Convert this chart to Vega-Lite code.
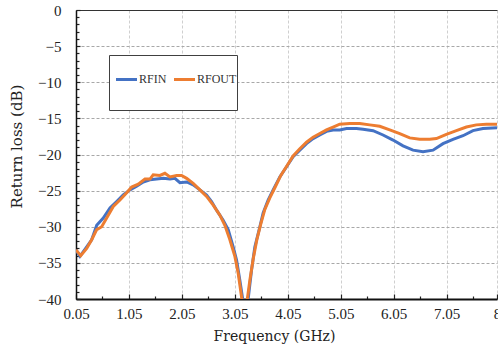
{
  "$schema": "https://vega.github.io/schema/vega-lite/v6.json",
  "width": 421,
  "height": 289,
  "autosize": {"type": "none"},
  "padding": {"left": 76, "top": 10, "right": 1, "bottom": 51},
  "background": "white",
  "config": {"view": {"stroke": null}, "font": "Liberation Serif"},
  "data": {"values": [
    {"f": 0.05, "s": "RFIN", "v": -33.2},
    {"f": 0.125, "s": "RFIN", "v": -34.1},
    {"f": 0.252, "s": "RFIN", "v": -32.8},
    {"f": 0.346, "s": "RFIN", "v": -31.8},
    {"f": 0.441, "s": "RFIN", "v": -29.8},
    {"f": 0.565, "s": "RFIN", "v": -28.8},
    {"f": 0.692, "s": "RFIN", "v": -27.4},
    {"f": 0.818, "s": "RFIN", "v": -26.5},
    {"f": 0.942, "s": "RFIN", "v": -25.6},
    {"f": 1.069, "s": "RFIN", "v": -24.9},
    {"f": 1.195, "s": "RFIN", "v": -24.4},
    {"f": 1.32, "s": "RFIN", "v": -23.8},
    {"f": 1.446, "s": "RFIN", "v": -23.5},
    {"f": 1.573, "s": "RFIN", "v": -23.4},
    {"f": 1.697, "s": "RFIN", "v": -23.3},
    {"f": 1.824, "s": "RFIN", "v": -23.4},
    {"f": 1.918, "s": "RFIN", "v": -23.3},
    {"f": 2.012, "s": "RFIN", "v": -23.9},
    {"f": 2.139, "s": "RFIN", "v": -23.8},
    {"f": 2.263, "s": "RFIN", "v": -24.2},
    {"f": 2.39, "s": "RFIN", "v": -24.9},
    {"f": 2.516, "s": "RFIN", "v": -25.6},
    {"f": 2.61, "s": "RFIN", "v": -26.5},
    {"f": 2.705, "s": "RFIN", "v": -27.7},
    {"f": 2.829, "s": "RFIN", "v": -29.1},
    {"f": 2.924, "s": "RFIN", "v": -30.4},
    {"f": 3.018, "s": "RFIN", "v": -32.8},
    {"f": 3.082, "s": "RFIN", "v": -34.6},
    {"f": 3.144, "s": "RFIN", "v": -37.4},
    {"f": 3.195, "s": "RFIN", "v": -39.9},
    {"f": 3.258, "s": "RFIN", "v": -42},
    {"f": 3.301, "s": "RFIN", "v": -40},
    {"f": 3.365, "s": "RFIN", "v": -36},
    {"f": 3.427, "s": "RFIN", "v": -32.8},
    {"f": 3.522, "s": "RFIN", "v": -30},
    {"f": 3.584, "s": "RFIN", "v": -28.1},
    {"f": 3.678, "s": "RFIN", "v": -26.3},
    {"f": 3.773, "s": "RFIN", "v": -24.9},
    {"f": 3.899, "s": "RFIN", "v": -23.1},
    {"f": 4.026, "s": "RFIN", "v": -21.7},
    {"f": 4.15, "s": "RFIN", "v": -20.3},
    {"f": 4.276, "s": "RFIN", "v": -19.4},
    {"f": 4.403, "s": "RFIN", "v": -18.5},
    {"f": 4.527, "s": "RFIN", "v": -17.8},
    {"f": 4.654, "s": "RFIN", "v": -17.3},
    {"f": 4.78, "s": "RFIN", "v": -16.8},
    {"f": 4.905, "s": "RFIN", "v": -16.6},
    {"f": 5.031, "s": "RFIN", "v": -16.6},
    {"f": 5.158, "s": "RFIN", "v": -16.4},
    {"f": 5.346, "s": "RFIN", "v": -16.4},
    {"f": 5.471, "s": "RFIN", "v": -16.5},
    {"f": 5.66, "s": "RFIN", "v": -16.7},
    {"f": 5.848, "s": "RFIN", "v": -17.3},
    {"f": 6.037, "s": "RFIN", "v": -18.0},
    {"f": 6.226, "s": "RFIN", "v": -18.8},
    {"f": 6.414, "s": "RFIN", "v": -19.4},
    {"f": 6.603, "s": "RFIN", "v": -19.6},
    {"f": 6.792, "s": "RFIN", "v": -19.4},
    {"f": 6.98, "s": "RFIN", "v": -18.5},
    {"f": 7.169, "s": "RFIN", "v": -17.9},
    {"f": 7.358, "s": "RFIN", "v": -17.4},
    {"f": 7.546, "s": "RFIN", "v": -16.7},
    {"f": 7.735, "s": "RFIN", "v": -16.4},
    {"f": 8.0, "s": "RFIN", "v": -16.3},
    {"f": 0.05, "s": "RFOUT", "v": -33.2},
    {"f": 0.139, "s": "RFOUT", "v": -34.0},
    {"f": 0.252, "s": "RFOUT", "v": -33.0},
    {"f": 0.346, "s": "RFOUT", "v": -31.8},
    {"f": 0.441, "s": "RFOUT", "v": -30.4},
    {"f": 0.535, "s": "RFOUT", "v": -30.0},
    {"f": 0.659, "s": "RFOUT", "v": -28.4},
    {"f": 0.754, "s": "RFOUT", "v": -27.2},
    {"f": 0.88, "s": "RFOUT", "v": -26.3},
    {"f": 1.007, "s": "RFOUT", "v": -25.3},
    {"f": 1.101, "s": "RFOUT", "v": -24.5},
    {"f": 1.226, "s": "RFOUT", "v": -24.1},
    {"f": 1.352, "s": "RFOUT", "v": -23.4},
    {"f": 1.446, "s": "RFOUT", "v": -23.4},
    {"f": 1.508, "s": "RFOUT", "v": -22.8},
    {"f": 1.635, "s": "RFOUT", "v": -22.9},
    {"f": 1.729, "s": "RFOUT", "v": -22.6},
    {"f": 1.824, "s": "RFOUT", "v": -23.1},
    {"f": 1.95, "s": "RFOUT", "v": -22.9},
    {"f": 2.044, "s": "RFOUT", "v": -22.9},
    {"f": 2.139, "s": "RFOUT", "v": -23.3},
    {"f": 2.263, "s": "RFOUT", "v": -24.0},
    {"f": 2.39, "s": "RFOUT", "v": -24.9},
    {"f": 2.516, "s": "RFOUT", "v": -25.8},
    {"f": 2.641, "s": "RFOUT", "v": -27.0},
    {"f": 2.767, "s": "RFOUT", "v": -28.4},
    {"f": 2.861, "s": "RFOUT", "v": -29.8},
    {"f": 2.956, "s": "RFOUT", "v": -31.8},
    {"f": 3.05, "s": "RFOUT", "v": -34.1},
    {"f": 3.112, "s": "RFOUT", "v": -36.4},
    {"f": 3.176, "s": "RFOUT", "v": -39.7},
    {"f": 3.22, "s": "RFOUT", "v": -42},
    {"f": 3.276, "s": "RFOUT", "v": -40.5},
    {"f": 3.333, "s": "RFOUT", "v": -37.4},
    {"f": 3.395, "s": "RFOUT", "v": -34.5},
    {"f": 3.465, "s": "RFOUT", "v": -31.8},
    {"f": 3.54, "s": "RFOUT", "v": -29.6},
    {"f": 3.616, "s": "RFOUT", "v": -27.6},
    {"f": 3.71, "s": "RFOUT", "v": -26.0},
    {"f": 3.805, "s": "RFOUT", "v": -24.6},
    {"f": 3.918, "s": "RFOUT", "v": -22.9},
    {"f": 4.031, "s": "RFOUT", "v": -21.6},
    {"f": 4.15, "s": "RFOUT", "v": -20.2},
    {"f": 4.276, "s": "RFOUT", "v": -19.2},
    {"f": 4.403, "s": "RFOUT", "v": -18.3},
    {"f": 4.527, "s": "RFOUT", "v": -17.6},
    {"f": 4.654, "s": "RFOUT", "v": -17.1},
    {"f": 4.78, "s": "RFOUT", "v": -16.6},
    {"f": 4.905, "s": "RFOUT", "v": -16.2},
    {"f": 5.031, "s": "RFOUT", "v": -15.8},
    {"f": 5.22, "s": "RFOUT", "v": -15.7},
    {"f": 5.408, "s": "RFOUT", "v": -15.7},
    {"f": 5.597, "s": "RFOUT", "v": -15.9},
    {"f": 5.786, "s": "RFOUT", "v": -16.1},
    {"f": 5.975, "s": "RFOUT", "v": -16.6},
    {"f": 6.163, "s": "RFOUT", "v": -17.1},
    {"f": 6.352, "s": "RFOUT", "v": -17.7},
    {"f": 6.54, "s": "RFOUT", "v": -17.9},
    {"f": 6.73, "s": "RFOUT", "v": -17.9},
    {"f": 6.856, "s": "RFOUT", "v": -17.8},
    {"f": 7.044, "s": "RFOUT", "v": -17.2},
    {"f": 7.233, "s": "RFOUT", "v": -16.7},
    {"f": 7.422, "s": "RFOUT", "v": -16.2},
    {"f": 7.61, "s": "RFOUT", "v": -15.9},
    {"f": 7.799, "s": "RFOUT", "v": -15.8},
    {"f": 8.0, "s": "RFOUT", "v": -15.8}
  ]},
  "mark": {"type": "line", "strokeWidth": 3, "clip": true},
  "encoding": {
    "x": {
      "field": "f", "type": "quantitative",
      "scale": {"domain": [0.05, 8], "nice": false, "zero": false},
      "axis": {
        "title": "Frequency (GHz)",
        "values": [0.05, 0.55, 1.05, 1.55, 2.05, 2.55, 3.05, 3.55, 4.05, 4.55, 5.05, 5.55, 6.05, 6.55, 7.05, 7.55, 8],
        "labelExpr": "(round((datum.value - 0.05) * 100) % 100 === 0 || datum.value === 8) ? format(datum.value, '.2~f') : ''",
        "labelFont": "Liberation Serif", "labelFontSize": 15, "labelColor": "#222", "labelPadding": 12, "labelFlush": false, "labelOverlap": false,
        "titleFont": "DejaVu Serif", "titleFontSize": 14, "titleFontWeight": "normal", "titleColor": "#222",
        "titleX": 198, "titleY": 41, "titleBaseline": "alphabetic", "titleAlign": "center", "titleAnchor": null,
        "domainColor": "#111", "domainWidth": 2,
        "tickColor": "#222", "tickWidth": 1.2,
        "tickSize": {"condition": {"test": "round((datum.value - 0.05) * 100) % 100 === 0 || datum.value === 8", "value": -5}, "value": -3},
        "grid": true, "gridColor": "#cfcfcf", "gridDash": [3, 2], "gridWidth": 1,
        "gridOpacity": {"condition": {"test": "round((datum.value - 0.05) * 100) % 100 === 0 || datum.value === 8", "value": 1}, "value": 0}
      }
    },
    "y": {
      "field": "v", "type": "quantitative",
      "scale": {"domain": [-40, 0], "nice": false},
      "axis": {
        "title": "Return loss (dB)",
        "values": [-40, -39, -38, -37, -36, -35, -34, -33, -32, -31, -30, -29, -28, -27, -26, -25, -24, -23, -22, -21, -20, -19, -18, -17, -16, -15, -14, -13, -12, -11, -10, -9, -8, -7, -6, -5, -4, -3, -2, -1, 0],
        "labelExpr": "datum.value % 5 === 0 ? datum.label : ''",
        "labelFont": "Liberation Serif", "labelFontSize": 15, "labelColor": "#222", "labelPadding": 19, "labelFlush": false, "labelOverlap": false,
        "titleFont": "DejaVu Serif", "titleFontSize": 15, "titleFontWeight": "normal", "titleColor": "#222",
        "titleX": -60, "titleY": 136, "titleBaseline": "middle", "titleAlign": "center", "titleAnchor": null,
        "domainColor": "#111", "domainWidth": 1.5,
        "tickColor": "#222", "tickWidth": 1.2,
        "tickSize": {"condition": {"test": "datum.value % 5 === 0", "value": -4}, "value": -3},
        "grid": true, "gridWidth": 1,
        "gridColor": {"condition": {"test": "datum.value === 0", "value": "#333"}, "value": "#a8a8a8"},
        "gridDash": {"condition": {"test": "datum.value === 0", "value": []}, "value": [3, 2]},
        "gridOpacity": {"condition": {"test": "datum.value % 5 === 0", "value": 1}, "value": 0}
      }
    },
    "color": {
      "field": "s", "type": "nominal",
      "scale": {"domain": ["RFIN", "RFOUT"], "range": ["#4472C4", "#ED7D31"]},
      "legend": {
        "title": null, "orient": "none", "legendX": 33, "legendY": 45, "direction": "horizontal",
        "strokeColor": "#404040", "fillColor": "white", "padding": 0,
        "symbolType": "M-1.0667,-1.0667M-1.0667,1.0667M-0.7556,0H0.1778", "symbolSize": 2025, "symbolStrokeWidth": 3,
        "labelOffset": -18, "columnPadding": -13,
        "labelFont": "Liberation Serif", "labelFontSize": 12, "labelColor": "#333"
      }
    }
  }
}
